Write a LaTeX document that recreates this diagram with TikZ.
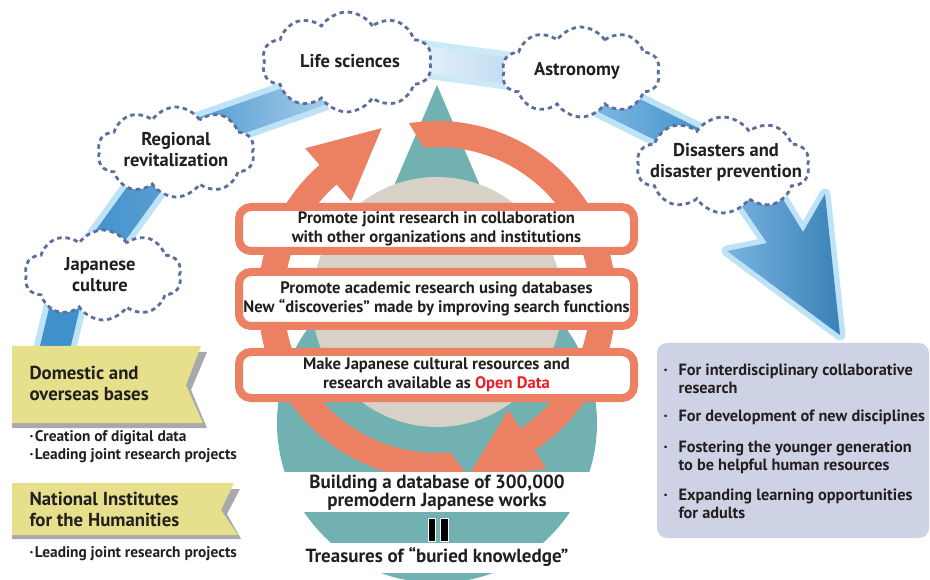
\documentclass[tikz,border=0pt]{standalone}
\usepackage{fontspec}
\setmainfont{PT Sans}
\usetikzlibrary{shapes.symbols,calc}
\definecolor{tealc}{HTML}{72B1B2}
\definecolor{beigec}{HTML}{D7D1C7}
\definecolor{orng}{HTML}{EC8062}
\definecolor{lblue}{HTML}{BFE3F6}
\definecolor{dblue}{HTML}{3F90CB}
\definecolor{mblue}{HTML}{7FB7E2}
\definecolor{pblue}{HTML}{EEF6FC}
\definecolor{cloudline}{HTML}{5C6F9C}
\definecolor{ylw}{HTML}{E6DF8C}
\definecolor{shadowgray}{HTML}{A7A9AC}
\definecolor{boxblue}{HTML}{CDD3E4}
\definecolor{txt}{HTML}{231F20}
\definecolor{opendata}{HTML}{ED1C24}
\newcommand\bandseg[4]{%
  \draw[line width=42pt, lblue] (#1) -- (#2);
  \shade[left color=#3, right color=#4] ($(#1)!15pt!90:(#2)$) -- ($(#2)!15pt!-90:(#1)$) -- ($(#2)!15pt!90:(#1)$) -- ($(#1)!15pt!-90:(#2)$) -- cycle;
}
\newcommand\rbul{\makebox[16pt][l]{\hspace{1pt}\textperiodcentered}}
\newcommand\lbul{\textperiodcentered\hspace{1.5pt}}
\tikzset{
  cloudbox/.style={cloud, cloud puffs=10, cloud puff arc=115, cloud ignores aspect, draw=cloudline, fill=white,
    line width=2.8pt, dash pattern=on 4.5pt off 3.8pt, inner sep=0pt},
  cloudtext/.style={align=center, font=\bfseries\fontsize{18.5}{21}\selectfont, text=txt},
  obox/.style={draw=orng, line width=8pt, fill=white, rounded corners=12pt, inner sep=0pt},
  boxtext/.style={align=center, font=\bfseries\fontsize{16.6}{19}\selectfont, text=txt},
  bantext/.style={align=left, anchor=west, font=\bfseries\fontsize{18.8}{21}\selectfont, text=txt},
  bullettext/.style={align=left, anchor=west, font=\bfseries\fontsize{15.4}{18}\selectfont, text=txt},
  rtext/.style={align=left, anchor=west, font=\bfseries\fontsize{16.3}{18}\selectfont, text=txt},
  bottomtext/.style={align=center, font=\bfseries\fontsize{19}{18}\selectfont, text=txt},
}
\begin{document}
\begin{tikzpicture}[x=1pt,y=-1pt]
\useasboundingbox (0,0) rectangle (930,580);
\fill[white] (0,0) rectangle (930,580);

% ---- teal drop and beige disc
\coordinate (apex) at (437,85);
\coordinate (dropc) at (437,423);
\coordinate (C) at (437,300);
\fill[tealc] (apex) -- (322,355) -- (552,355) -- cycle;
\fill[tealc] (dropc) circle[radius=160];
\fill[beigec] (437,302) circle[radius=125];

% ---- orange circular arrows
\fill[orng] ($(C)+(80:179)$) arc[start angle=80, end angle=229, radius=179]
  -- ($(C)+(229:201)$) -- ($(C)+(229:166)+(319:71)$) -- ($(C)+(229:131)$)
  -- ($(C)+(229:153)$) arc[start angle=229, end angle=85, radius=153] -- cycle;
\fill[orng] ($(C)+(261:179)$) arc[start angle=261, end angle=417, radius=179]
  -- ($(C)+(417:201)$) -- ($(C)+(417:166)+(507:72)$) -- ($(C)+(417:131)$)
  -- ($(C)+(417:153)$) arc[start angle=417, end angle=265, radius=153] -- cycle;

% ---- white bands at the bottom
\fill[white] (250,472) rectangle (625,512);
\fill[white] (250,543) rectangle (625,573);

% ---- blue band path
\coordinate (s1a) at (54,352);  \coordinate (s1b) at (70,285);
\coordinate (s2a) at (92,261);  \coordinate (s2b) at (168,156);
\coordinate (s3a) at (200,133); \coordinate (s3b) at (322,90);
\coordinate (s4a) at (400,56);  \coordinate (s4b) at (540,75);
\coordinate (s5a) at (600,96);  \coordinate (s5b) at (705,148);
\bandseg{s1a}{s1b}{dblue}{dblue}
\bandseg{s2a}{s2b}{dblue}{dblue!85!white}
\bandseg{s3a}{s3b}{dblue!90!white}{mblue!70!white}
\draw[line width=38pt, lblue!80!white] (s4a) -- (s4b);
\shade[left color=pblue, right color=mblue!60!white] ($(s4a)!13pt!90:(s4b)$) -- ($(s4b)!13pt!-90:(s4a)$) -- ($(s4b)!13pt!90:(s4a)$) -- ($(s4a)!13pt!-90:(s4b)$) -- cycle;
\bandseg{s5a}{s5b}{mblue}{dblue}
% big arrow
\coordinate (aL) at (735,196); \coordinate (aNL) at (767,243); \coordinate (aBL) at (727,251);
\coordinate (aT) at (840,335); \coordinate (aBR) at (825,194); \coordinate (aNR) at (803,232);
\coordinate (aR) at (781,196);
\draw[lblue, fill=lblue, line width=11pt, line join=round] (aL) -- (aNL) -- (aBL) -- (aT) -- (aBR) -- (aNR) -- (aR) -- cycle;
\shade[left color=mblue!90!dblue, right color=dblue!90!black] (aL) -- (aNL) -- (aBL) -- (aT) -- (aBR) -- (aNR) -- (aR) -- cycle;

% ---- clouds
\node[cloudbox, minimum width=157pt, minimum height=90pt] (jc) at (103,275) {};
\node[cloudbox, minimum width=157pt, minimum height=90pt] (rr) at (176,152) {};
\node[cloudbox, minimum width=170pt, minimum height=100pt] (ls) at (347,62) {};
\node[cloudbox, minimum width=158pt, minimum height=90pt] (as) at (581,72) {};
\node[cloudbox, minimum width=173pt, minimum height=96pt] (dp) at (723,165) {};
\node[cloudtext] (jct) at (100,275) {Japanese\\culture};
\node[cloudtext] (rrt) at (176,150) {Regional\\revitalization};
\node[cloudtext] (lst) at (350,61) {Life sciences};
\node[cloudtext] (ast) at (577,71) {Astronomy};
\node[cloudtext] (dpt) at (726,162) {Disasters and\\disaster prevention};

% ---- orange-framed boxes
\node[obox, minimum width=395pt, minimum height=44pt] (b1) at (436.5,229) {};
\node[obox, minimum width=395pt, minimum height=54pt] (b2) at (436.5,299) {};
\node[obox, minimum width=395pt, minimum height=46pt] (b3) at (436.5,375) {};
\node[boxtext] at (b1.center) {Promote joint research in collaboration\\with other organizations and institutions};
\node[boxtext] at (b2.center) {Promote academic research using databases\\New “discoveries” made by improving search functions};
\node[boxtext] at (b3.center) {Make Japanese cultural resources and\\research available as \textcolor{opendata}{Open Data}};

% ---- bottom texts
\node[bottomtext] (build) at (437,493) {Building a database of 300,000\\premodern Japanese works};
\draw[white, fill=black, line width=1pt] (428,518) rectangle (435.5,541);
\draw[white, fill=black, line width=1pt] (440.5,518) rectangle (448,541);
\node[bottomtext] (treas) at (437,557) {Treasures of “buried knowledge”};

% ---- left banners
\fill[shadowgray] (12,352) -- (207,352) -- (191,390) -- (207,428) -- (12,428) -- cycle;
\fill[ylw] (12,346) -- (201,346) -- (186,385) -- (203,423) -- (12,423) -- cycle;
\node[bantext] (dom) at (26,383) {Domestic and\\overseas bases};
\node[bullettext] (domb) at (26,447) {\lbul Creation of digital data\\\lbul Leading joint research projects};

\fill[shadowgray] (12,489) -- (240,489) -- (227,514) -- (241,539) -- (12,539) -- cycle;
\fill[ylw] (12,483) -- (234,483) -- (221,510) -- (238,535) -- (12,535) -- cycle;
\node[bantext] (nih) at (26,509) {National Institutes\\for the Humanities};
\node[bullettext] (nihb) at (26,554) {\lbul Leading joint research projects};

% ---- right box
\fill[boxblue, rounded corners=10pt] (657,343) rectangle (929,538);
\node[rtext] (r1) at (659,379) {\rbul For interdisciplinary collaborative\\\hspace{16pt}research};
\node[rtext] (r2) at (659,417) {\rbul For development of new disciplines};
\node[rtext] (r3) at (659,457) {\rbul Fostering the younger generation\\\hspace{16pt}to be helpful human resources};
\node[rtext] (r4) at (659,504) {\rbul Expanding learning opportunities\\\hspace{16pt}for adults};
\end{tikzpicture}
\end{document}
